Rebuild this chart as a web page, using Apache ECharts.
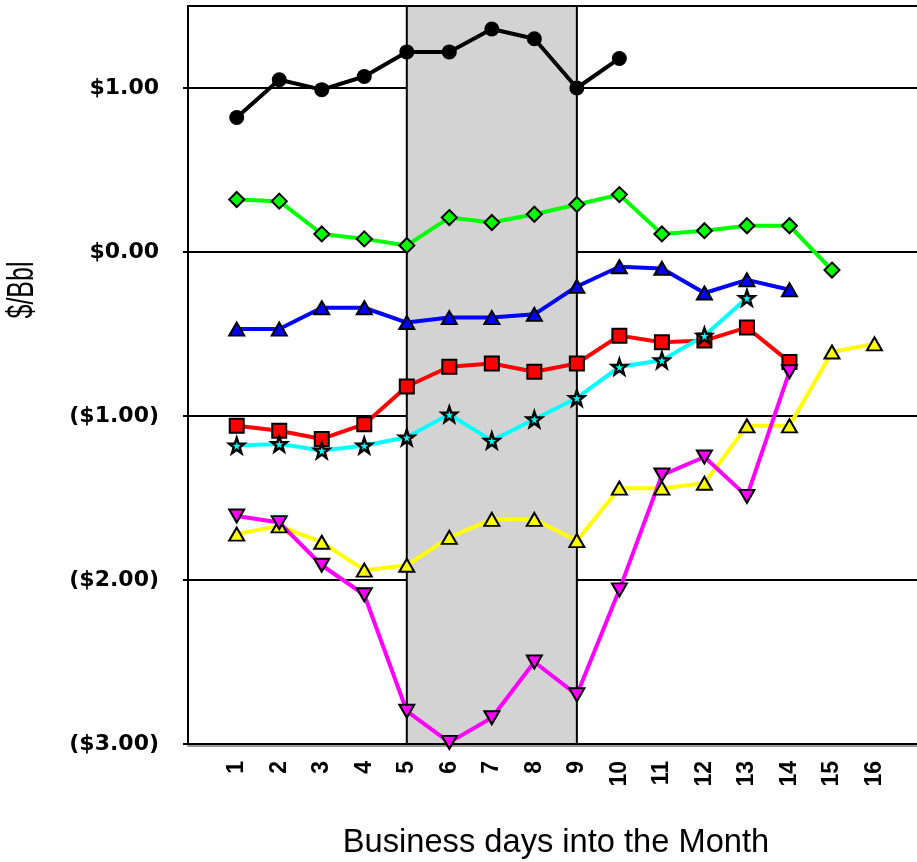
<!DOCTYPE html>
<html>
<head>
<meta charset="utf-8">
<title>$/Bbl by business day</title>
<script src="https://cdn.jsdelivr.net/npm/echarts@6/dist/echarts.min.js"></script>
<style>
  html, body { margin: 0; padding: 0; background: #ffffff; }
  #chart { width: 917px; height: 862px; }
</style>
</head>
<body>
<div id="chart"></div>
<script>
// Business days shown on the horizontal axis
const days = [1, 2, 3, 4, 5, 6, 7, 8, 9, 10, 11, 12, 13, 14, 15, 16];

// Dollar levels marked on the vertical axis
const yTicks = [-3, -2, -1, 0, 1];

// $/Bbl values per business day, one array per monthly series
const blackSeries   = [0.82, 1.05, 0.99, 1.07, 1.22, 1.22, 1.36, 1.30, 1.00, 1.18];
const greenSeries   = [0.32, 0.31, 0.11, 0.08, 0.04, 0.21, 0.18, 0.23, 0.29, 0.35, 0.11, 0.13, 0.16, 0.16, -0.11];
const blueSeries    = [-0.47, -0.47, -0.34, -0.34, -0.43, -0.40, -0.40, -0.38, -0.21, -0.09, -0.10, -0.25, -0.17, -0.23];
const redSeries     = [-1.06, -1.09, -1.14, -1.05, -0.82, -0.70, -0.68, -0.73, -0.68, -0.51, -0.55, -0.54, -0.46, -0.67];
const cyanSeries    = [-1.18, -1.17, -1.21, -1.18, -1.13, -0.99, -1.15, -1.02, -0.89, -0.70, -0.66, -0.51, -0.28];
const yellowSeries  = [-1.72, -1.67, -1.77, -1.94, -1.91, -1.74, -1.63, -1.63, -1.76, -1.44, -1.44, -1.41, -1.06, -1.06, -0.61, -0.56];
const magentaSeries = [-1.61, -1.65, -1.91, -2.09, -2.80, -2.99, -2.84, -2.50, -2.70, -2.06, -1.36, -1.25, -1.49, -0.73];

// Shaded window of business days
const shadeStart = 5;
const shadeEnd = 9;

// Axis range and titles
const yMin = -3, yMax = 1.5;
const xMin = -0.146, xMax = 17;
const xTitle = 'Business days into the Month';
const yTitle = '$/Bbl';

const starPath = 'path://M0,-10L2.35,-3.24L9.51,-3.09L3.8,1.24L5.88,8.09L0,4L-5.88,8.09L-3.8,1.24L-9.51,-3.09L-2.35,-3.24Z';

function pairs(values) {
  return values.map((v, i) => [days[i], v]);
}

function money(v) {
  if (v < 0) return '($' + (-v).toFixed(2) + ')';
  return '$' + v.toFixed(2);
}

function lineSeries(values, color, symbol, size, extra) {
  return Object.assign({
    type: 'line',
    data: pairs(values),
    symbol: symbol,
    symbolSize: size,
    showAllSymbol: true,
    clip: false,
    lineStyle: { color: color, width: 4 },
    itemStyle: { color: color, borderColor: '#000000', borderWidth: 2 },
    emphasis: { disabled: true },
    animation: false
  }, extra || {});
}

const chart = echarts.init(document.getElementById('chart'), null, { renderer: 'canvas' });

const blackLine = { color: '#000000', width: 2 };

chart.setOption({
  backgroundColor: '#ffffff',
  animation: false,
  grid: { left: 188, top: 6, right: 0, bottom: 118, containLabel: false },
  xAxis: [
    {
      type: 'value',
      min: xMin,
      max: xMax,
      axisLine: {
        show: true, onZero: false,
        lineStyle: { color: '#000000', width: 2, shadowColor: '#999999', shadowOffsetY: 2, shadowBlur: 0 }
      },
      axisTick: { show: false },
      splitLine: { show: false },
      axisLabel: {
        customValues: days,
        rotate: 90,
        margin: 17,
        color: '#000000',
        fontFamily: 'Liberation Sans, Arial, sans-serif',
        fontWeight: 'bold',
        fontSize: 23,
        formatter: v => String(v)
      }
    },
    {
      // top frame of the plot area
      type: 'value',
      position: 'top',
      min: xMin,
      max: xMax,
      axisLine: { show: true, onZero: false, lineStyle: blackLine },
      axisTick: { show: false },
      axisLabel: { show: false },
      splitLine: { show: false }
    }
  ],
  yAxis: {
    type: 'value',
    min: yMin,
    max: yMax,
    axisLine: { show: true, onZero: false, lineStyle: blackLine },
    axisTick: { show: true, length: 5, customValues: yTicks, lineStyle: blackLine },
    splitLine: { show: true, lineStyle: blackLine },
    axisLabel: {
      customValues: yTicks,
      margin: 29,
      color: '#000000',
      fontFamily: 'DejaVu Sans, sans-serif',
      fontWeight: 'bold',
      fontSize: 22,
      formatter: money
    }
  },
  graphic: [
    {
      type: 'text',
      x: 556, y: 843,
      scaleX: 0.96,
      style: {
        text: xTitle,
        align: 'center', verticalAlign: 'middle',
        fill: '#000000',
        font: '34px "Liberation Sans", Arial, sans-serif'
      },
      silent: true
    },
    {
      type: 'text',
      x: 23, y: 290,
      rotation: Math.PI / 2,
      scaleY: 1.45,
      style: {
        text: yTitle,
        align: 'center', verticalAlign: 'middle',
        fill: '#000000',
        font: '25px "Liberation Sans", Arial, sans-serif'
      },
      silent: true
    }
  ],
  series: [
    lineSeries(blackSeries, '#000000', 'circle', 15, {
      markArea: {
        silent: true,
        itemStyle: { color: '#d3d3d3', borderColor: '#000000', borderWidth: 2 },
        data: [[{ xAxis: shadeStart, yAxis: yMin }, { xAxis: shadeEnd, yAxis: yMax }]]
      },
      itemStyle: { color: '#000000', borderColor: '#000000', borderWidth: 0 }
    }),
    lineSeries(greenSeries, '#00ff00', 'diamond', 15),
    lineSeries(blueSeries, '#0000ff', 'triangle', [15, 13]),
    lineSeries(redSeries, '#ff0000', 'rect', 14),
    lineSeries(cyanSeries, '#00ffff', starPath, 15, {
      itemStyle: { color: '#00ffff', borderColor: '#000000', borderWidth: 2.5 }
    }),
    lineSeries(yellowSeries, '#ffff00', 'triangle', [15, 13]),
    lineSeries(magentaSeries, '#ff00ff', 'triangle', [15, 13], { symbolRotate: 180 })
  ]
});
</script>
</body>
</html>
